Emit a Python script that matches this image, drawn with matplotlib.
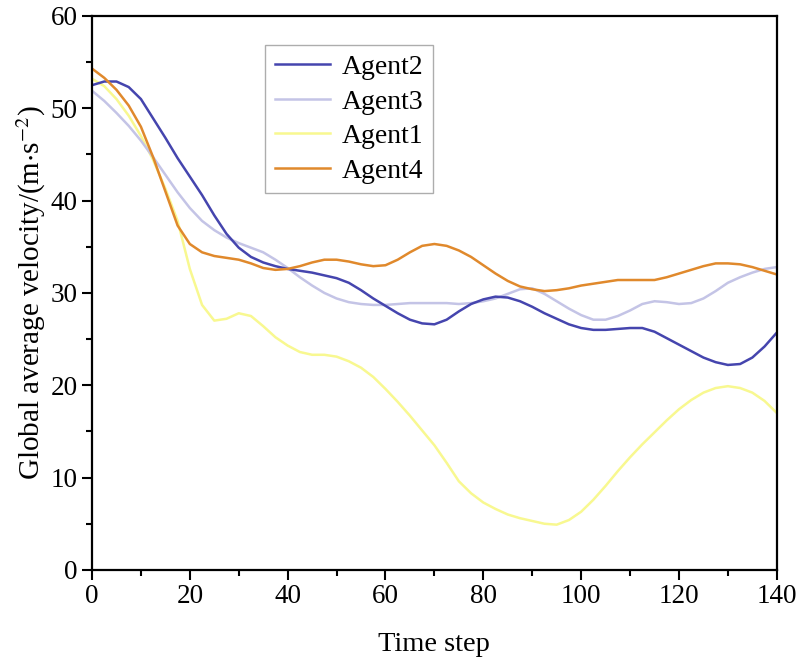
# velocity curves of four agents
import numpy as np
import matplotlib.pyplot as plt

plt.rcParams['font.family'] = ['Liberation Serif', 'DejaVu Serif']
plt.rcParams['mathtext.fontset'] = 'stix'

steps = np.arange(0, 140.1, 2.5)

agent2 = [52.5, 52.9, 52.9, 52.3, 51.0, 48.9, 46.8, 44.6, 42.6, 40.6, 38.4, 36.4, 34.9, 33.9, 33.3,
          32.9, 32.6, 32.4, 32.2, 31.9, 31.6, 31.1, 30.3, 29.4, 28.6, 27.8, 27.1, 26.7, 26.6,
          27.1, 28.0, 28.8, 29.3, 29.6, 29.5, 29.1, 28.5, 27.8, 27.2, 26.6, 26.2, 26.0, 26.0,
          26.1, 26.2, 26.2, 25.8, 25.1, 24.4, 23.7, 23.0, 22.5, 22.2, 22.3, 23.0, 24.2, 25.7]
agent3 = [51.9, 50.8, 49.5, 48.1, 46.5, 44.7, 42.8, 40.9, 39.2, 37.8, 36.8, 36.0, 35.4, 34.9, 34.4,
          33.6, 32.7, 31.7, 30.8, 30.0, 29.4, 29.0, 28.8, 28.7, 28.7, 28.8, 28.9, 28.9, 28.9,
          28.9, 28.8, 28.9, 29.1, 29.4, 29.9, 30.4, 30.5, 29.9, 29.1, 28.3, 27.6, 27.1, 27.1,
          27.5, 28.1, 28.8, 29.1, 29.0, 28.8, 28.9, 29.4, 30.2, 31.1, 31.7, 32.2, 32.6, 32.8]
agent1 = [53.2, 52.4, 51.0, 49.2, 47.0, 44.4, 41.3, 37.8, 32.6, 28.7, 27.0, 27.2, 27.8, 27.5, 26.4,
          25.2, 24.3, 23.6, 23.3, 23.3, 23.1, 22.6, 21.9, 20.9, 19.6, 18.2, 16.7, 15.1, 13.5,
          11.6, 9.6, 8.3, 7.3, 6.6, 6.0, 5.6, 5.3, 5.0, 4.9, 5.4, 6.3, 7.6, 9.1,
          10.7, 12.2, 13.6, 14.9, 16.2, 17.4, 18.4, 19.2, 19.7, 19.9, 19.7, 19.2, 18.3, 17.0]
agent4 = [54.3, 53.3, 52.0, 50.3, 48.0, 44.7, 41.0, 37.3, 35.3, 34.4, 34.0, 33.8, 33.6, 33.2, 32.7,
          32.5, 32.6, 32.9, 33.3, 33.6, 33.6, 33.4, 33.1, 32.9, 33.0, 33.6, 34.4, 35.1, 35.3,
          35.1, 34.6, 33.9, 33.0, 32.1, 31.3, 30.7, 30.4, 30.2, 30.3, 30.5, 30.8, 31.0, 31.2,
          31.4, 31.4, 31.4, 31.4, 31.7, 32.1, 32.5, 32.9, 33.2, 33.2, 33.1, 32.8, 32.4, 32.0]

fig = plt.figure(figsize=(8, 6.65), dpi=100)
ax = fig.add_axes([0.115, 0.143, 0.856, 0.833])

l1, = ax.plot(steps, agent1, color="#F8F890", lw=1.8, label="Agent1")
l3, = ax.plot(steps, agent3, color="#C4C4E6", lw=1.8, label="Agent3")
l2, = ax.plot(steps, agent2, color="#4545AE", lw=1.8, label="Agent2")
l4, = ax.plot(steps, agent4, color="#E0892C", lw=1.8, label="Agent4")

ax.set_xlim(0, 140)
ax.set_ylim(0, 60)
ax.set_xticks(np.arange(0, 141, 20))
ax.set_xticks(np.arange(10, 141, 20), minor=True)
ax.set_yticks(np.arange(0, 61, 10))
ax.set_yticks(np.arange(5, 61, 10), minor=True)
ax.tick_params(which="major", direction="out", length=7, width=1.5, labelsize=19.5,
               top=False, right=False)
ax.tick_params(which="minor", direction="out", length=4, width=1.5, top=False, right=False)
for s in ax.spines.values():
    s.set_linewidth(1.6)

ax.set_xlabel("Time step", fontsize=20.5, labelpad=16)
ax.set_ylabel(r"Global average velocity/(m$\cdot$s$^{-2}$)", fontsize=21, labelpad=2)

leg = ax.legend(handles=[l2, l3, l1, l4], loc="upper left", bbox_to_anchor=(0.2526, 0.948),
                fontsize=20, frameon=True, fancybox=False, handlelength=2.0,
                borderaxespad=0, labelspacing=0.33, handletextpad=0.4, borderpad=0.35)
leg.get_frame().set_edgecolor("#999999")
leg.get_frame().set_linewidth(1.0)

fig.savefig("out.png", dpi=100)
